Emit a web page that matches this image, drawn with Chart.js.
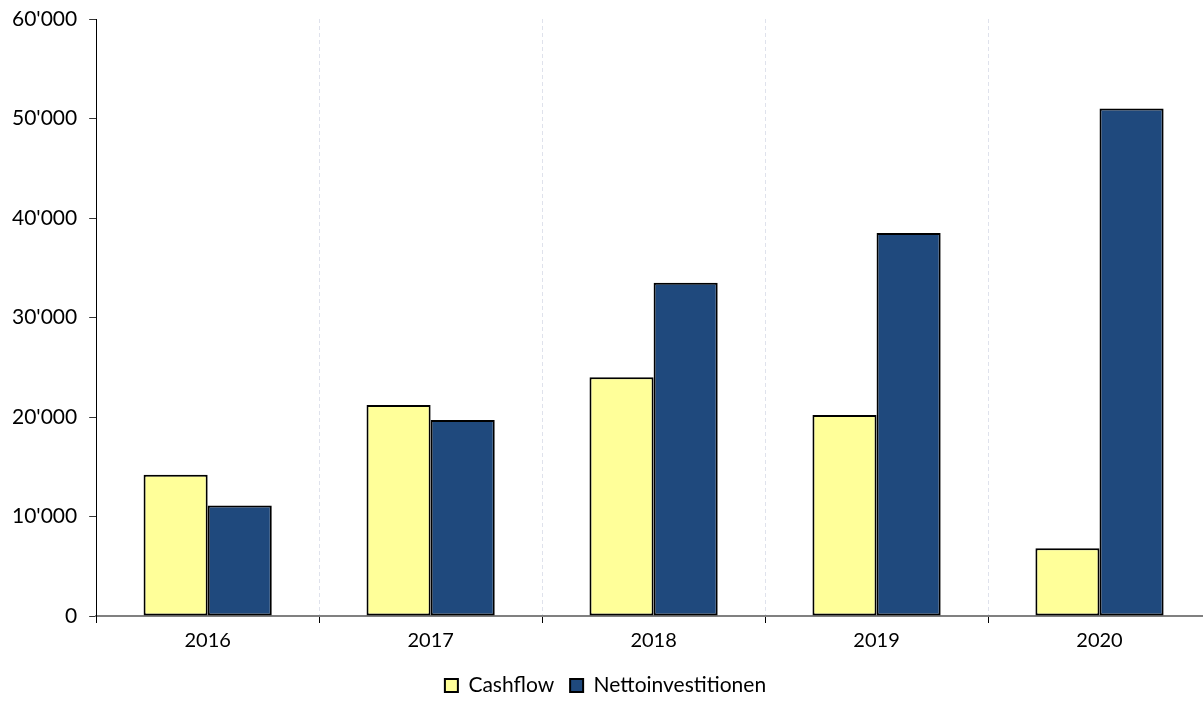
<!DOCTYPE html>
<html>
<head>
<title>Cashflow und Nettoinvestitionen</title>
<script src="https://cdn.jsdelivr.net/npm/chart.js"></script>
<style>
  html, body {
    margin: 0;
    padding: 0;
    overflow: hidden;
    background: #ffffff;
  }
  /* slightly wider than the window so the last category runs to the edge */
  #chartContainer {
    width: 1211px;
    height: 706px;
  }
</style>
</head>
<body>
  <div id="chartContainer">
    <canvas id="cashChart"></canvas>
  </div>

  <script>
    // Jahre und Werte
    const years = ["2016", "2017", "2018", "2019", "2020"];
    const cashflow = [14200, 21200, 24000, 20200, 6800];
    const nettoinvestitionen = [11100, 19700, 33500, 38500, 51000];
    const yTicks = [0, 10000, 20000, 30000, 40000, 50000, 60000];

    // 60000 -> 60'000
    function formatNumber(v) {
      return String(v).replace(/\B(?=(\d{3})+(?!\d))/g, "'");
    }

    const fontFamily = "Lato, 'Open Sans', sans-serif";

    const ctx = document.getElementById("cashChart").getContext("2d");

    const cashChart = new Chart(ctx, {
      type: "bar",
      data: {
        labels: years,
        datasets: [
          {
            label: "Cashflow",
            data: cashflow,
            backgroundColor: "#ffff99",
            borderColor: "#000000",
            borderWidth: 2,
            borderSkipped: false
          },
          {
            label: "Nettoinvestitionen",
            data: nettoinvestitionen,
            backgroundColor: "#1f497d",
            borderColor: "#000000",
            borderWidth: 2,
            borderSkipped: false
          }
        ]
      },
      options: {
        responsive: true,
        maintainAspectRatio: false,
        animation: false,
        layout: {
          padding: { top: 19, left: 0, right: 0, bottom: 0 }
        },
        datasets: {
          bar: {
            categoryPercentage: 0.575,
            barPercentage: 1.0
          }
        },
        plugins: {
          tooltip: { enabled: false },
          legend: {
            position: "bottom",
            labels: {
              color: "#000000",
              font: { family: fontFamily, size: 21 },
              boxWidth: 13,
              boxHeight: 13,
              padding: 16
            }
          }
        },
        scales: {
          x: {
            grid: {
              offset: true,
              drawOnChartArea: true,
              color: (c) => c.index === 0 ? "rgba(0,0,0,0)" : "#dfe2ec",
              lineWidth: 1,
              tickLength: 7,
              tickColor: "#000000",
              tickWidth: 1,
              tickBorderDash: []
            },
            border: {
              display: true,
              color: "#808080",
              width: 2,
              dash: [4, 3]
            },
            ticks: {
              color: "#000000",
              font: { family: fontFamily, size: 20 },
              padding: 6
            }
          },
          y: {
            min: 0,
            max: 60000,
            afterBuildTicks: (scale) => {
              scale.ticks = yTicks.map(v => ({ value: v }));
            },
            // the label padding would otherwise push the plot top down
            afterFit: (scale) => {
              scale.paddingTop = 0;
            },
            grid: {
              drawOnChartArea: false,
              drawTicks: true,
              tickLength: 7,
              tickColor: "#333333",
              tickWidth: 1
            },
            border: {
              display: true,
              color: "#000000",
              width: 1
            },
            ticks: {
              color: "#000000",
              font: { family: fontFamily, size: 21 },
              padding: 12,
              callback: (value) => formatNumber(value)
            }
          }
        }
      }
    });
  </script>
</body>
</html>
